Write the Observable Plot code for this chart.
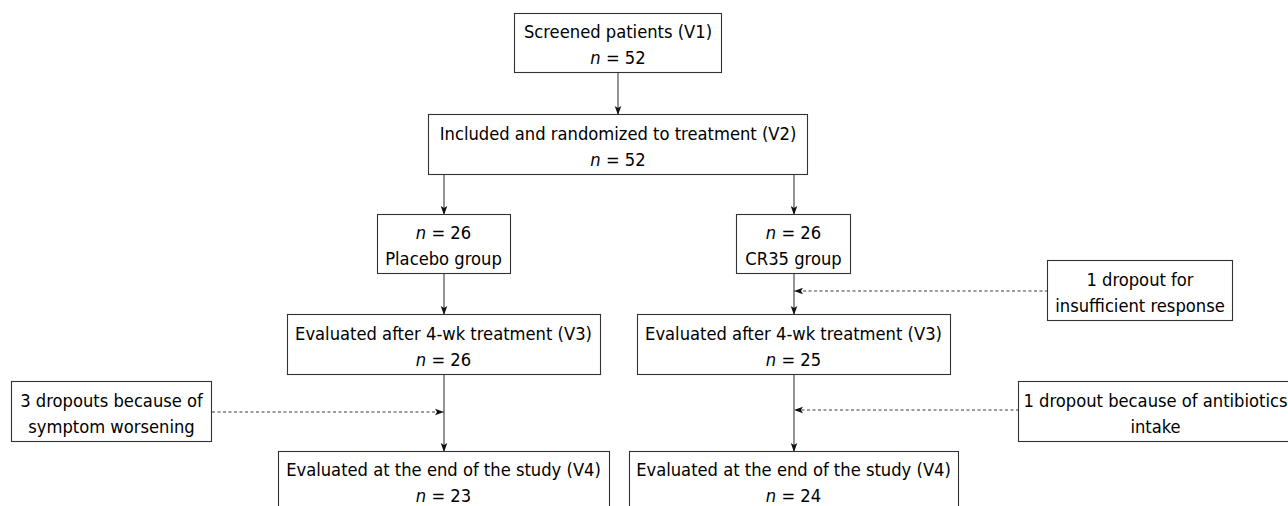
<!DOCTYPE html>
<html>
<head>
<meta charset="utf-8">
<script src="https://cdn.jsdelivr.net/npm/d3@7"></script>
<script src="https://cdn.jsdelivr.net/npm/@observablehq/plot@0.6"></script>
<style>
  html, body { margin: 0; padding: 0; background: #fff; }
  #chart svg { display: block; }
</style>
</head>
<body>
<div id="chart"></div>
<script>
// ---------------- DATA ----------------
const stageLabels = [
  "Screened patients (V1)",
  "Included and randomized to treatment (V2)",
  "Evaluated after 4-wk treatment (V3)",
  "Evaluated at the end of the study (V4)"
];
const groupLabels = ["Placebo group", "CR35 group"];
const screenedN = 52;
const randomizedN = 52;
const placeboN = [26, 26, 23];   // allocated, V3, V4
const cr35N = [26, 25, 24];      // allocated, V3, V4
const dropoutLines = [
  ["1 dropout for", "insufficient response"],
  ["3 dropouts because of", "symptom worsening"],
  ["1 dropout because of antibiotics", "intake"]
];

// ---------------- NODES ----------------
const nt = n => "n = " + n;
const nodes = [
  {id: "v1", lines: [stageLabels[0], nt(screenedN)]},
  {id: "v2", lines: [stageLabels[1], nt(randomizedN)]},
  {id: "pl", lines: [nt(placeboN[0]), groupLabels[0]]},
  {id: "cr", lines: [nt(cr35N[0]), groupLabels[1]]},
  {id: "v3p", lines: [stageLabels[2], nt(placeboN[1])]},
  {id: "v3c", lines: [stageLabels[2], nt(cr35N[1])]},
  {id: "v4p", lines: [stageLabels[3], nt(placeboN[2])]},
  {id: "v4c", lines: [stageLabels[3], nt(cr35N[2])]},
  {id: "d1", lines: dropoutLines[0]},
  {id: "d3", lines: dropoutLines[1]},
  {id: "d2", lines: dropoutLines[2]}
];

// ---------------- LAYOUT (positions kept apart from the data) ----------------
const col = {main: 617.5, placebo: 443, cr35: 793};
const layout = {
  v1:  {cx: col.main,    w: 207, top: 13,  h: 59},
  v2:  {cx: col.main,    w: 379, top: 114, h: 60},
  pl:  {cx: col.placebo, w: 133, top: 214, h: 59},
  cr:  {cx: col.cr35,    w: 114, top: 214, h: 59},
  v3p: {cx: col.placebo, w: 313, top: 314, h: 60},
  v3c: {cx: col.cr35,    w: 313, top: 314, h: 60},
  v4p: {cx: col.placebo, w: 331, top: 451, h: 66, ty: 29},
  v4c: {cx: col.cr35,    w: 329, top: 451, h: 66, ty: 29},
  d1:  {cx: 1139.5,      w: 185, top: 260, h: 60},
  d3:  {cx: 111,         w: 200, top: 381, h: 60},
  d2:  {cx: 1157,        w: 278, top: 381, h: 60, tx: -2}
};
const boxes = nodes.map(d => {
  const L = layout[d.id];
  return {
    id: d.id,
    text: d.lines.join("\n"),
    x1: Math.round(L.cx - L.w / 2), x2: Math.round(L.cx + L.w / 2),
    y1: L.top, y2: L.top + L.h,
    cx: L.cx + (L.tx || 0), cy: L.top + (L.ty || L.h / 2)
  };
});
const B = Object.fromEntries(boxes.map(b => [b.id, b]));

// solid flow arrows (source bottom -> target top, on the target's column)
const flow = [["v1","v2"],["v2","pl"],["v2","cr"],["pl","v3p"],["cr","v3c"],["v3p","v4p"],["v3c","v4c"]]
  .map(([s, t]) => ({x: Math.floor(layout[t].cx), y1: B[s].y2, y2: B[t].y1}));
// dashed dropout arrows (from the side box to the group's vertical line)
const drops = [["d1", col.cr35, 290], ["d3", col.placebo, 411], ["d2", col.cr35, 409]]
  .map(([s, x, y]) => {
    const b = B[s];
    const fromRight = b.cx > x;
    return {x1: fromRight ? b.x1 : b.x2, x2: Math.floor(x), y, rot: fromRight ? 90 : -90};
  });
const heads = [
  ...flow.map(d => ({x: d.x, y: d.y2, rot: 0})),
  ...drops.map(d => ({x: d.x2, y: d.y, rot: d.rot}))
];

// arrowhead symbol: tip at origin pointing down
const arrowHead = {
  draw(ctx) {
    ctx.moveTo(0, 0);
    ctx.lineTo(-3.3, -9);
    ctx.lineTo(0, -7);
    ctx.lineTo(3.3, -9);
    ctx.closePath();
  }
};

const LINE = "#3c3c3c";
const BOX = "#333";
const FONT = "'DejaVu Sans Condensed', 'DejaVu Sans', sans-serif";
const FS = 18.2;

const chart = Plot.plot({
  width: 1288,
  height: 506,
  margin: 0,
  x: {domain: [0, 1288], range: [0, 1288], axis: null},
  y: {domain: [0, 506], range: [0, 506], axis: null},
  style: {fontFamily: FONT, fontSize: FS + "px", background: "#fff", color: "#000", overflow: "hidden"},
  marks: [
    Plot.link(flow, {x1: "x", x2: "x", y1: "y1", y2: "y2", stroke: LINE, strokeWidth: 1.1, dx: 0.5}),
    Plot.link(drops, {x1: "x1", x2: "x2", y1: "y", y2: "y", stroke: LINE, strokeWidth: 1.1, strokeDasharray: "3,2.5", dx: 0.5, dy: 0.5}),
    Plot.dot(heads, {x: "x", y: "y", rotate: "rot", symbol: arrowHead, r: 3, fill: "#111", stroke: "none", dx: 0.5, dy: 0.5}),
    Plot.rect(boxes, {x1: "x1", x2: "x2", y1: "y1", y2: "y2", fill: "#fff", stroke: BOX, strokeWidth: 1.1, dx: 0.5, dy: 0.5}),
    Plot.text(boxes, {x: "cx", y: "cy", text: "text", fill: "#000", fontSize: FS, lineHeight: 1.42, textAnchor: "middle", lineAnchor: "middle"})
  ]
});

// italic "n" in the "n = …" lines
d3.select(chart).selectAll("tspan").each(function () {
  const t = this.textContent;
  if (/^n = /.test(t)) {
    this.textContent = "";
    d3.select(this).append("tspan").attr("font-style", "italic").text("n");
    this.appendChild(document.createTextNode(t.slice(1)));
  }
});

document.getElementById("chart").appendChild(chart);
</script>
</body>
</html>
